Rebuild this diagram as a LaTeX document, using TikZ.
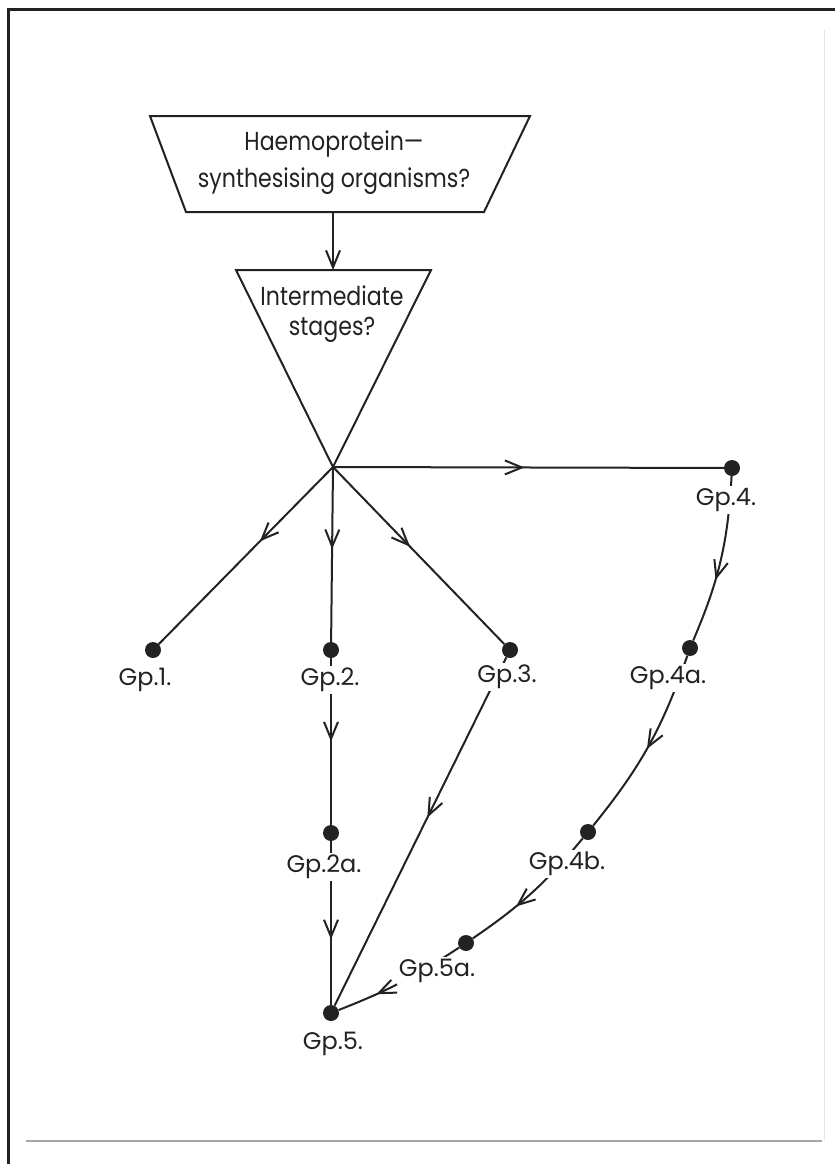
\documentclass[tikz,border=0pt]{standalone}
\usepackage{fontspec}
\setmainfont{Poppins}
\newfontfamily\narrowfont{Poppins}[FakeStretch=0.85]
\usetikzlibrary{arrows.meta,decorations.markings}
\definecolor{ink}{HTML}{222222}
\begin{document}
\begin{tikzpicture}[x=1pt,y=-1pt,
  line/.style={draw=ink,line width=2pt},
  midarrow/.style={line,postaction={decorate,decoration={markings,
     mark=at position #1 with {\arrow[ink,line width=2pt]{Straight Barb[length=17pt,width=14pt]}}}}},
  dot/.style={circle,fill=ink,inner sep=0pt,minimum size=16pt},
  lbl/.style={fill=white,inner sep=2pt,text=ink,font=\fontsize{24}{28}\selectfont},
  txt/.style={text=ink,font=\narrowfont\fontsize{26}{37}\selectfont,align=center},
  txtwide/.style={text=ink,font=\narrowfont\fontsize{26}{30}\selectfont,align=center}]
\useasboundingbox (0,0) rectangle (835,1164);
% frame
\draw[ink,line width=3pt] (8,1164) -- (8,10) -- (835,10);
\draw[gray!70,line width=2pt] (26,1141) -- (822,1141);
\draw[gray!20,line width=1pt] (824,30) -- (824,1141);
% trapezium
\coordinate (trapB) at (333,212);
\draw[line] (150,116) -- (530,116) -- (484,212) -- (186,212) -- cycle;
\node[txt] (q1) at (334,163) {Haemoprotein—\\synthesising organisms?};
% triangle
\coordinate (triT) at (333,270);
\coordinate (hub) at (333,467);
\draw[line] (236,270) -- (431,270) -- (hub) -- cycle;
\node[txtwide] (q2) at (332,314) {Intermediate\\stages?};
\draw[line,-{Straight Barb[length=17pt,width=14pt]}] (trapB) -- (triT);
% dots
\node[dot] (g1) at (153,650) {};
\node[dot] (g2) at (331,650) {};
\node[dot] (g3) at (510,650) {};
\node[dot] (g4) at (732,468) {};
\node[dot] (g4a) at (690,648) {};
\node[dot] (g2a) at (331,833) {};
\node[dot] (g4b) at (588,832) {};
\node[dot] (g5a) at (466,943) {};
\node[dot] (g5) at (331,1013) {};
% connectors
\draw[midarrow=0.42] (hub) -- (g1);
\draw[midarrow=0.47] (hub) -- (g2);
\draw[midarrow=0.45] (hub) -- (g3);
\draw[midarrow=0.49] (hub) -- (g4);
\draw[midarrow=0.5] (g2) -- (g2a);
\draw[midarrow=0.6] (g2a) -- (g5);
\draw[midarrow=0.46] (g3) -- (g5);
\draw[midarrow=0.62] (g4) to[bend left=10] (g4a);
\draw[midarrow=0.52] (g4a) to[bend left=10] (g4b);
\draw[midarrow=0.64] (g4b) to[bend left=8] (g5a);
\draw[midarrow=0.7] (g5a) to[bend left=6] (g5);
% labels
\node[lbl] (l1) at (145,680) {Gp.1.};
\node[lbl] (l2) at (330,680) {Gp.2.};
\node[lbl] (l3) at (507,677) {Gp.3.};
\node[lbl] (l4) at (726,500) {Gp.4.};
\node[lbl] (l4a) at (668,678) {Gp.4a.};
\node[lbl] (l2a) at (324,867) {Gp.2a.};
\node[lbl] (l4b) at (567,864) {Gp.4b.};
\node[lbl] (l5a) at (437,971) {Gp.5a.};
\node[lbl] (l5) at (333,1044) {Gp.5.};
\end{tikzpicture}
\end{document}
